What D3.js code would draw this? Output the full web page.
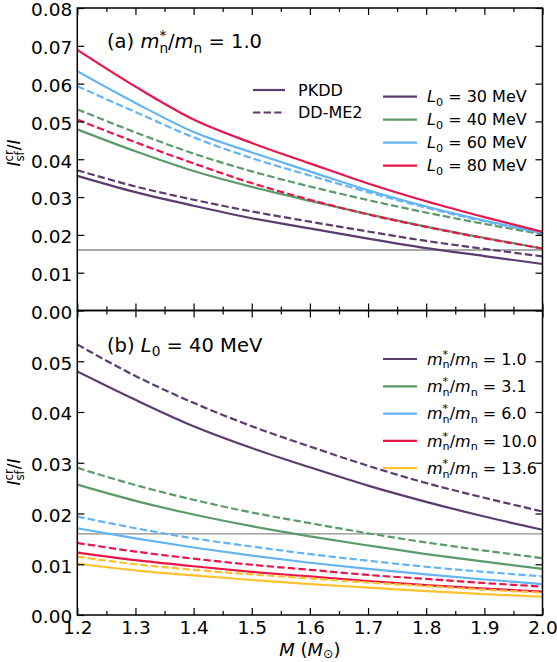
<!DOCTYPE html>
<html>
<head>
<meta charset="utf-8">
<script src="https://cdn.jsdelivr.net/npm/d3@7"></script>
<style>
  body { margin: 0; background: #fff; }
  text { font-family: "DejaVu Sans"; }
</style>
</head>
<body>
<script>
// neutron star mass grid (M_sun)
const mass = [1.2, 1.3, 1.4, 1.5, 1.6, 1.7, 1.8, 1.9, 2.0];

// panel (a): m*/m = 1.0, PKDD (solid) and DD-ME2 (dashed) for several L0
const L0 = ["30", "40", "60", "80"];
const pkdd30 = [0.0356, 0.0313, 0.0277, 0.0244, 0.0217, 0.0190, 0.0165, 0.0144, 0.0123];
const ddme30 = [0.0371, 0.0328, 0.0293, 0.0262, 0.0235, 0.0209, 0.0184, 0.0163, 0.0143];
const pkdd40 = [0.0479, 0.0421, 0.0369, 0.0327, 0.0290, 0.0255, 0.0222, 0.0192, 0.0164];
const ddme40 = [0.0532, 0.0471, 0.0415, 0.0368, 0.0328, 0.0292, 0.0259, 0.0229, 0.0202];
const pkdd60 = [0.0633, 0.0549, 0.0472, 0.0418, 0.0368, 0.0318, 0.0275, 0.0238, 0.0206];
const ddme60 = [0.0593, 0.0525, 0.0458, 0.0403, 0.0357, 0.0313, 0.0272, 0.0236, 0.0205];
const pkdd80 = [0.0689, 0.0592, 0.0505, 0.0443, 0.0389, 0.0336, 0.0289, 0.0247, 0.0208];
const ddme80 = [0.0505, 0.0445, 0.0389, 0.0337, 0.0293, 0.0254, 0.0221, 0.0191, 0.0164];

// panel (b): L0 = 40 MeV for several effective masses
const mstar = ["1.0", "3.1", "6.0", "10.0", "13.6"];
const pkddM10 = [0.0480, 0.0424, 0.0372, 0.0329, 0.0291, 0.0255, 0.0223, 0.0194, 0.0168];
const ddmeM10 = [0.0533, 0.0471, 0.0418, 0.0372, 0.0332, 0.0294, 0.0260, 0.0231, 0.0204];
const pkddM31 = [0.0257, 0.0225, 0.0198, 0.0175, 0.0155, 0.0137, 0.0120, 0.0105, 0.0091];
const ddmeM31 = [0.0290, 0.0256, 0.0227, 0.0202, 0.0181, 0.0161, 0.0143, 0.0127, 0.0112];
const pkddM60 = [0.0171, 0.0151, 0.0133, 0.0117, 0.0103, 0.0091, 0.0080, 0.0070, 0.0061];
const ddmeM60 = [0.0194, 0.0171, 0.0151, 0.0135, 0.0120, 0.0107, 0.0095, 0.0085, 0.0076];
const pkddM100 = [0.0123, 0.0108, 0.0096, 0.0085, 0.0076, 0.0067, 0.0059, 0.0052, 0.0046];
const ddmeM100 = [0.0142, 0.0125, 0.0111, 0.0099, 0.0089, 0.0079, 0.0071, 0.0063, 0.0056];
const pkddM136 = [0.0101, 0.0088, 0.0078, 0.0069, 0.0061, 0.0054, 0.0047, 0.0041, 0.0036];
const ddmeM136 = [0.0115, 0.0100, 0.0089, 0.0080, 0.0072, 0.0064, 0.0057, 0.0050, 0.0044];

const threshold = 0.016;
const xTicks = [1.2, 1.3, 1.4, 1.5, 1.6, 1.7, 1.8, 1.9, 2.0];
const yTicksA = [0, 0.01, 0.02, 0.03, 0.04, 0.05, 0.06, 0.07, 0.08];
const yTicksB = [0, 0.01, 0.02, 0.03, 0.04, 0.05];

const colors = ["#5c3b6f", "#5a9b69", "#64b4f4", "#e8174b", "#fec22c"];

const W = 557, H = 662;
const x0 = 77.3, x1 = 542.5;

const svg = d3.select("body").append("svg")
    .attr("width", W).attr("height", H)
    .attr("viewBox", `0 0 ${W} ${H}`);

const x = d3.scaleLinear().domain([1.2, 2.0]).range([x0, x1]);
const ya = d3.scaleLinear().domain([0, 0.08]).range([310.5, 8]);
const yb = d3.scaleLinear().domain([0, 0.06]).range([615, 310.5]);

// mathtext-ish rich text: parts {t, i: italic, sub, sup, stack: under previous sup}
function rich(parent, px, py, size, parts, anchor, transform) {
  const t = parent.append("text").attr("x", px).attr("y", py)
      .attr("font-size", size).attr("fill", "#000");
  if (anchor) t.attr("text-anchor", anchor);
  if (transform) t.attr("transform", transform);
  let cur = 0, prevW = 0, pending = 0;
  parts.forEach(p => {
    const small = p.sub || p.sup;
    const off = p.sub ? size * (p.drop || 0.24) : p.sup ? -size * 0.42 : 0;
    const s = t.append("tspan")
        .attr("font-size", small ? size * 0.7 : size)
        .attr("dy", off - cur)
        .text(p.t);
    cur = off;
    if (p.i) s.attr("font-style", "italic");
    let dx = pending;
    pending = 0;
    if (p.stack) dx -= prevW;
    if (dx) s.attr("dx", dx);
    const w = s.node().getComputedTextLength();
    if (p.stack && prevW > w) pending = prevW - w;
    prevW = w;
  });
  return t;
}

function mLabel(v) {
  return [{t: "m", i: 1}, {t: "*", sup: 1}, {t: "n", sub: 1, stack: 1},
          {t: "/"}, {t: "m", i: 1}, {t: "n", sub: 1}, {t: " = " + v}];
}
function lLabel(v) {
  return [{t: "L", i: 1}, {t: "0", sub: 1}, {t: " = " + v + " MeV"}];
}

function drawPanel(id, y, top, bottom, yTicks, showX, series) {
  const g = svg.append("g");

  g.append("clipPath").attr("id", id)
    .append("rect").attr("x", x0).attr("y", top)
      .attr("width", x1 - x0).attr("height", bottom - top);

  const plot = g.append("g").attr("clip-path", `url(#${id})`);

  plot.append("line")
      .attr("x1", x0).attr("x2", x1)
      .attr("y1", y(threshold)).attr("y2", y(threshold))
      .attr("stroke", "#8c8c8c").attr("stroke-width", 1.3);

  const line = d3.line()
      .x((d, i) => x(mass[i]))
      .y(d => y(d))
      .curve(d3.curveMonotoneX);

  series.forEach(s => {
    plot.append("path")
        .attr("d", line(s.values))
        .attr("fill", "none")
        .attr("stroke", s.color)
        .attr("stroke-width", 2.2)
        .attr("stroke-dasharray", s.dash ? "7.4,3.2" : null);
  });

  const minorX = d3.range(1.25, 2.0, 0.1);
  const style = a => a.call(s => s.select(".domain").remove())
      .call(s => s.selectAll("line").attr("stroke", "#000").attr("stroke-width", 1.2))
      .attr("font-size", 18.5).attr("font-family", "DejaVu Sans");

  g.append("g").attr("transform", `translate(${x0},0)`)
      .call(d3.axisLeft(y).tickValues(yTicks).tickSizeInner(-7).tickSizeOuter(0)
        .tickPadding(5).tickFormat(d3.format(".2f")))
      .call(style)
      .call(s => s.selectAll("text").attr("dy", "0.42em"));
  g.append("g").attr("transform", `translate(${x1},0)`)
      .call(d3.axisRight(y).tickValues(yTicks).tickSizeInner(-7).tickSizeOuter(0).tickFormat(""))
      .call(style);

  [[bottom, d3.axisBottom], [top, d3.axisTop]].forEach(([yy, ax], k) => {
    g.append("g").attr("transform", `translate(0,${yy})`)
        .call(ax(x).tickValues(xTicks).tickSizeInner(-7).tickSizeOuter(0).tickPadding(6)
          .tickFormat(showX && k === 0 ? d3.format(".1f") : ""))
        .call(style);
    g.append("g").attr("transform", `translate(0,${yy})`)
        .call(ax(x).tickValues(minorX).tickSizeInner(-4).tickSizeOuter(0).tickFormat(""))
        .call(style);
  });

  g.append("rect")
      .attr("x", x0).attr("y", top)
      .attr("width", x1 - x0).attr("height", bottom - top)
      .attr("fill", "none").attr("stroke", "#000").attr("stroke-width", 1.5);

  return g;
}

function legendRow(g, lx0, lx1, tx, cy, color, dash, parts) {
  g.append("line")
      .attr("x1", lx0).attr("x2", lx1).attr("y1", cy).attr("y2", cy)
      .attr("stroke", color).attr("stroke-width", 2.2)
      .attr("stroke-dasharray", dash ? "7.4,3.2" : null);
  rich(g, tx, cy + 5.6, 16, parts);
}

// ---- panel (a)
const pairsA = [[pkdd30, ddme30], [pkdd40, ddme40], [pkdd60, ddme60], [pkdd80, ddme80]];
const seriesA = [];
pairsA.forEach((p, i) => {
  seriesA.push({values: p[0], color: colors[i], dash: false});
  seriesA.push({values: p[1], color: colors[i], dash: true});
});
const ga = drawPanel("clipA", ya, 8, 310.5, yTicksA, false, seriesA);

rich(ga, 107, 48, 19.5, [{t: "(a) "}].concat(mLabel("1.0")));

legendRow(ga, 253, 285, 298, 90, colors[0], false, [{t: "PKDD"}]);
legendRow(ga, 253, 285, 298, 112.5, colors[0], true, [{t: "DD-ME2"}]);
L0.forEach((v, i) => {
  legendRow(ga, 383, 417, 427, 96.7 + i * 23, colors[i], false, lLabel(v));
});

// ---- panel (b)
const pairsB = [[pkddM10, ddmeM10], [pkddM31, ddmeM31], [pkddM60, ddmeM60],
                [pkddM100, ddmeM100], [pkddM136, ddmeM136]];
const seriesB = [];
pairsB.forEach((p, i) => {
  seriesB.push({values: p[0], color: colors[i], dash: false});
  seriesB.push({values: p[1], color: colors[i], dash: true});
});
const gb = drawPanel("clipB", yb, 310.5, 615, yTicksB, true, seriesB);

rich(gb, 107, 351.5, 19.5, [{t: "(b) "}].concat(lLabel("40")));

mstar.forEach((v, i) => {
  legendRow(gb, 383, 417, 427, 359 + i * 27.3, colors[i], false, mLabel(v));
});

// axis titles
const yTitle = [{t: "I", i: 1}, {t: "cr", sup: 1}, {t: "sf", sub: 1, stack: 1}, {t: "/"}, {t: "I", i: 1}];
rich(svg, 0, 0, 17, yTitle, "middle", "translate(20,153) rotate(-90)");
rich(svg, 0, 0, 17, yTitle, "middle", "translate(20,472) rotate(-90)");

rich(svg, (x0 + x1) / 2, 655.5, 18,
  [{t: "M", i: 1}, {t: " ("}, {t: "M", i: 1}, {t: "\u2299", sub: 1, drop: 0.15}, {t: ")"}], "middle");
</script>
</body>
</html>
